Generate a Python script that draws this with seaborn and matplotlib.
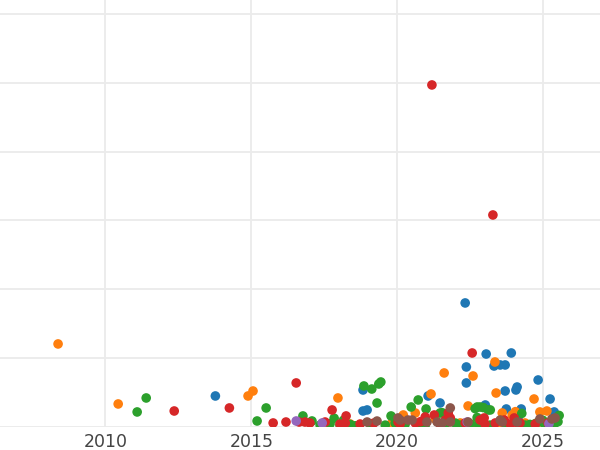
import matplotlib
matplotlib.use('Agg')
import matplotlib.pyplot as plt
import seaborn as sns
import pandas as pd

# values (x = year, y = value, gridlines every 100)
blue_year = [2013.77, 2018.83, 2018.97, 2018.83, 2022.33, 2023.05, 2023.91, 2022.37, 2022.37,
             2023.32, 2023.53, 2023.70, 2023.70, 2024.11, 2024.07, 2024.83, 2025.24, 2021.47,
             2021.06, 2023.74, 2024.25, 2025.38, 2023.02, 2024.14, 2025.40]
blue_value = [45.3, 23.5, 25.0, 54.0, 180.3, 106.2, 107.7, 87.4, 64.2,
              88.8, 90.3, 90.3, 52.5, 58.3, 54.0, 68.5, 40.9, 35.1,
              45.3, 26.4, 26.4, 22.1, 32.2, 12.0, 10.0]

orange_year = [2008.38, 2010.44, 2014.89, 2015.06, 2017.97, 2021.61, 2021.16, 2023.35, 2022.60,
               2023.39, 2024.69, 2022.43, 2025.13, 2024.89, 2020.62, 2023.60, 2023.94, 2024.05,
               2020.21, 2018.39, 2020.10, 2020.27, 2020.71, 2021.64, 2022.16, 2022.67, 2023.53,
               2024.38, 2024.89, 2021.30, 2019.80]
orange_value = [120.8, 33.7, 45.3, 52.5, 42.4, 78.7, 48.2, 94.6, 74.3,
                49.6, 40.9, 30.8, 23.5, 22.1, 20.6, 20.6, 17.7, 22.5,
                17.7, 4.6, 6.1, 7.5, 4.6, 4.6, 6.1, 4.6, 4.6,
                6.1, 7.5, 12.0, 5.0]

green_year = [2011.09, 2011.40, 2015.20, 2015.51, 2016.77, 2017.08, 2018.86, 2019.13, 2019.37,
              2019.44, 2019.31, 2019.79, 2020.72, 2020.48, 2020.99, 2022.74, 2022.84, 2023.12,
              2021.47, 2021.54, 2022.67, 2022.95, 2023.19, 2022.74, 2024.27, 2025.55, 2024.83,
              2024.99, 2017.84, 2018.16,
              2017.36, 2017.70, 2018.04, 2018.39, 2018.56, 2019.07, 2019.59, 2019.93, 2020.27,
              2020.78, 2020.96, 2021.64, 2021.99, 2022.16, 2022.50, 2022.78, 2023.18, 2023.70,
              2024.38, 2024.55, 2024.73, 2025.07, 2025.41, 2025.51]
green_value = [22.1, 42.4, 9.0, 27.9, 16.3, 9.0, 59.8, 55.4, 62.7,
               65.6, 35.1, 16.3, 39.5, 29.3, 26.4, 29.3, 29.3, 25.0,
               20.6, 21.0, 27.0, 28.5, 25.0, 14.0, 20.0, 17.0, 7.5,
               10.0, 13.0, 10.0,
               3.0, 5.0, 3.0, 4.0, 2.0, 5.0, 3.0, 6.0, 4.0,
               5.0, 3.0, 4.0, 6.0, 3.0, 5.0, 4.0, 3.0, 6.0,
               3.0, 4.0, 5.0, 3.0, 6.0, 8.0]

red_year = [2012.36, 2014.25, 2015.75, 2016.19, 2016.54, 2016.64, 2016.84, 2017.01, 2017.77,
            2018.25, 2021.19, 2023.28, 2022.57, 2020.96, 2021.27, 2020.03, 2021.75, 2021.82,
            2021.65, 2022.84, 2022.98, 2023.67, 2024.01, 2024.11, 2025.17,
            2017.53, 2018.04, 2018.22, 2018.73, 2020.10, 2020.62, 2021.47, 2022.33, 2023.01,
            2023.36, 2023.87, 2024.21, 2024.73, 2019.20, 2020.80]
red_value = [23.5, 27.9, 6.1, 7.5, 64.2, 7.5, 7.5, 6.1, 25.0,
             16.3, 496.7, 308.0, 107.7, 14.8, 17.7, 7.5, 20.6, 13.4,
             10.4, 10.4, 13.4, 10.4, 13.4, 6.1, 6.1,
             7.5, 4.6, 6.1, 4.6, 4.6, 6.1, 4.6, 6.1, 4.6,
             6.1, 4.6, 6.1, 4.6, 6.0, 8.0]

purple_year = [2016.54, 2017.43, 2022.40, 2025.20]
purple_value = [9.0, 6.1, 7.5, 5.0]

brown_year = [2018.97, 2019.31, 2020.03, 2020.10, 2020.37, 2020.51, 2021.02, 2021.37, 2021.54,
              2021.82, 2021.82, 2022.43, 2023.53, 2023.60, 2024.11, 2024.89, 2025.30, 2025.41]
brown_value = [7.5, 8.9, 13.4, 10.4, 10.4, 10.4, 7.5, 7.5, 6.1,
               27.9, 7.5, 7.5, 10.4, 7.5, 7.5, 11.9, 11.9, 13.4]

groups = {
    'blue': (blue_year, blue_value, '#1f77b4'),
    'orange': (orange_year, orange_value, '#ff7f0e'),
    'green': (green_year, green_value, '#2ca02c'),
    'red': (red_year, red_value, '#d62728'),
    'purple': (purple_year, purple_value, '#9467bd'),
    'brown': (brown_year, brown_value, '#8c564b'),
}

frames = [pd.DataFrame({'year': yr, 'value': val, 'group': g}) for g, (yr, val, _) in groups.items()]
df = pd.concat(frames, ignore_index=True)
palette = {g: c for g, (_, _, c) in groups.items()}

sns.set_style('whitegrid', {'grid.color': '#ebebeb', 'axes.edgecolor': 'white'})

fig = plt.figure(figsize=(6, 4.5), dpi=100)
ax = fig.add_axes([0, 0.0507, 1, 0.9493])
sns.scatterplot(data=df, x='year', y='value', hue='group', palette=palette,
                s=48, linewidth=0, alpha=1, legend=False, ax=ax)

ax.set_xlim(2006.39, 2026.95)
ax.set_ylim(0, 620)
ax.set_xticks([2010, 2015, 2020, 2025])
ax.set_yticks([0, 100, 200, 300, 400, 500, 600])
ax.grid(True, color='#ebebeb', linewidth=1.3)
ax.tick_params(axis='y', left=False, labelleft=False)
ax.tick_params(axis='x', length=0, pad=4, labelsize=12.5, labelcolor='#444444')
for sp in ax.spines.values():
    sp.set_visible(False)
ax.set_xlabel('')
ax.set_ylabel('')

fig.savefig('out.png', dpi=100)
